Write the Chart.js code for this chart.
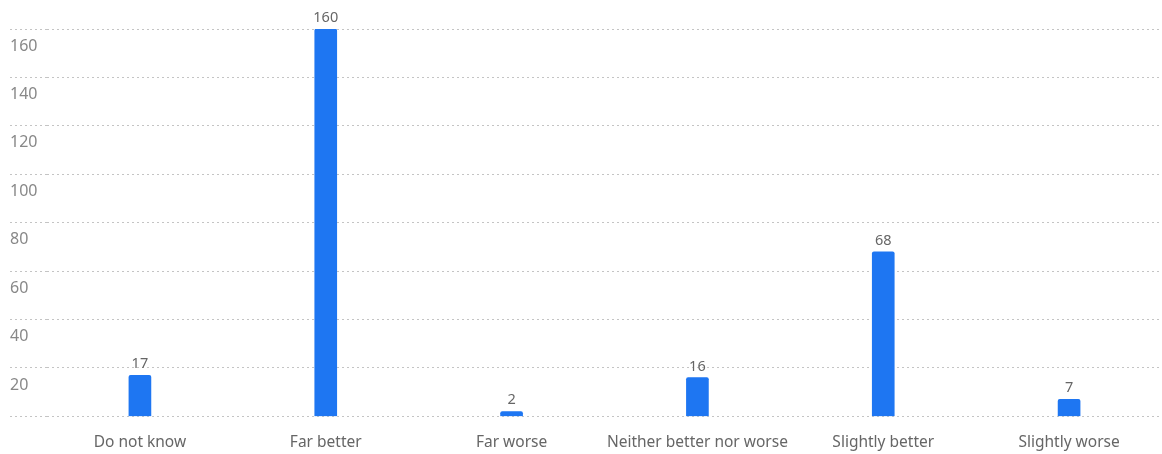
<!DOCTYPE html>
<html>
<head>
<meta charset="utf-8">
<script src="https://cdn.jsdelivr.net/npm/chart.js@4/dist/chart.umd.min.js"></script>
<style>
  html, body { margin: 0; padding: 0; background: #fff; }
  #wrap { width: 1162px; height: 454px; }
</style>
</head>
<body>
<div id="wrap"><canvas id="barChart"></canvas></div>
<script>
  var categories = ["Do not know", "Far better", "Far worse", "Neither better nor worse", "Slightly better", "Slightly worse"];
  var counts = [17, 160, 2, 16, 68, 7];
  var yTicks = [0, 20, 40, 60, 80, 100, 120, 140, 160];

  Chart.defaults.font.family = "'Noto Sans', 'Open Sans', sans-serif";
  Chart.defaults.font.size = 14;

  // value labels above each bar
  var valueLabels = {
    id: 'valueLabels',
    afterDatasetsDraw: function (chart) {
      var ctx = chart.ctx;
      var meta = chart.getDatasetMeta(0);
      ctx.save();
      ctx.font = "14.5px 'Noto Sans', 'Open Sans', sans-serif";
      ctx.fillStyle = '#666';
      ctx.textAlign = 'center';
      ctx.textBaseline = 'bottom';
      meta.data.forEach(function (bar, i) {
        ctx.fillText(String(chart.data.datasets[0].data[i]), bar.x, bar.y - 4);
      });
      ctx.restore();
    }
  };

  var myBarChart = new Chart(document.getElementById('barChart'), {
    type: 'bar',
    data: {
      labels: categories,
      datasets: [{
        data: counts,
        backgroundColor: '#1e76f2',
        borderRadius: { topLeft: 2, topRight: 2 },
        borderSkipped: 'bottom',
        barThickness: 22
      }]
    },
    options: {
      responsive: true,
      maintainAspectRatio: false,
      animation: false,
      layout: { padding: { left: 10, right: -2, top: 29, bottom: -15 } },
      plugins: {
        legend: { display: false },
        tooltip: { enabled: false }
      },
      scales: {
        x: {
          grid: { display: false, drawTicks: false },
          border: { display: false },
          ticks: {
            color: '#666',
            padding: 17,
            maxRotation: 0,
            minRotation: 0,
            autoSkip: false,
            font: { size: 15.5 }
          }
        },
        y: {
          min: yTicks[0],
          max: yTicks[yTicks.length - 1],
          afterFit: function (scale) { scale.width = 37; },
          afterBuildTicks: function (scale) {
            scale.ticks = yTicks.map(function (v) { return { value: v }; });
          },
          border: { display: false, dash: [2, 3] },
          grid: {
            color: '#c4c4c4',
            lineWidth: 1,
            drawTicks: true,
            tickLength: 37,
            tickColor: '#c4c4c4',
            tickBorderDash: [2, 3]
          },
          ticks: {
            color: '#888',
            crossAlign: 'far',
            labelOffset: 17,
            font: { size: 16 },
            callback: function (v) { return v === 0 ? '' : v; }
          }
        }
      }
    },
    plugins: [valueLabels]
  });
</script>
</body>
</html>
